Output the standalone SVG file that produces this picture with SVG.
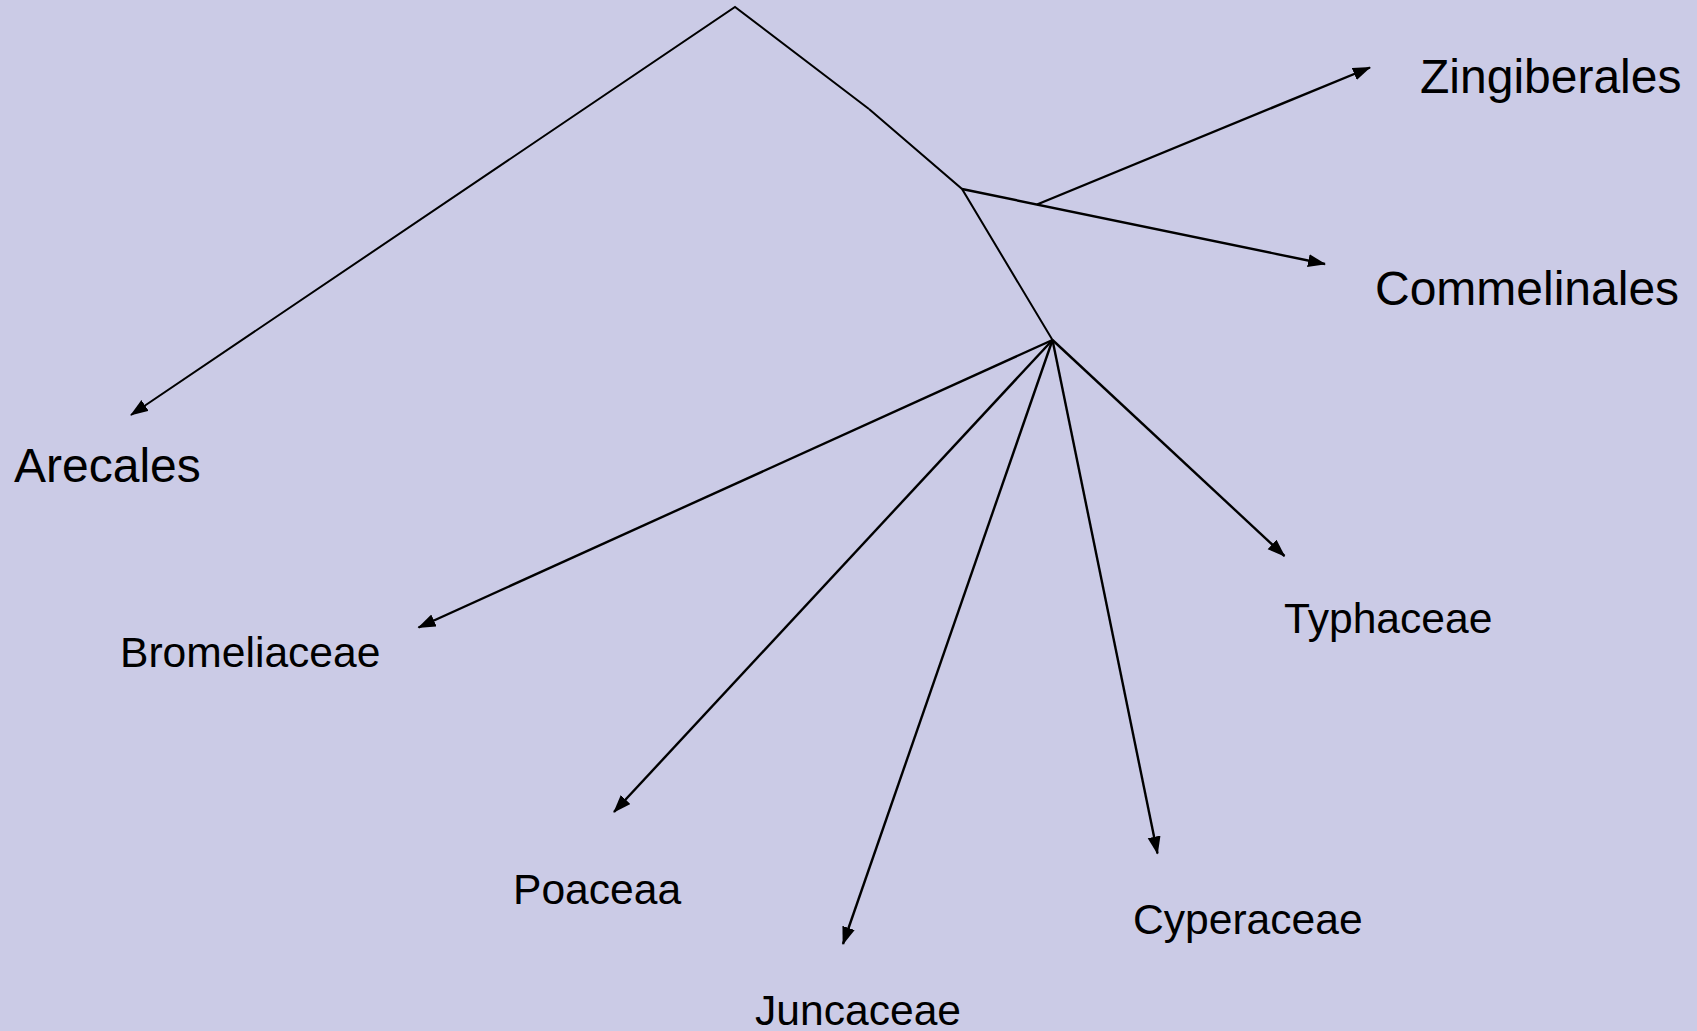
<svg xmlns="http://www.w3.org/2000/svg" width="1697" height="1031" viewBox="0 0 1697 1031">
<defs>
<marker id="arrow" markerUnits="userSpaceOnUse" markerWidth="18" markerHeight="14" refX="17" refY="6.5" orient="auto">
<path d="M0,0 L18,6.5 L0,13 z" fill="#000"/>
</marker>
<style>
.tree{fill:none;stroke:#000;stroke-width:2;stroke-linejoin:miter}
.arr{fill:none;stroke:#000;stroke-width:2.4;marker-end:url(#arrow)}
.big{font-family:"Liberation Sans",Arial,sans-serif;font-size:48px;fill:#000}
.small{font-family:"Liberation Sans",Arial,sans-serif;font-size:42.6px;fill:#000}
</style>
</defs>
<rect x="0" y="0" width="1697" height="1031" fill="#CBCBE6"/>
<g id="connectors">
<polyline class="tree" points="869,109 735,7 131,415" marker-end="url(#arrow)"/>
<polyline class="tree" points="869,109 962,189 1052.5,340"/>
<line class="arr" x1="962" y1="189" x2="1325" y2="264"/>
<line class="arr" x1="1037" y1="204.5" x2="1370" y2="67.5"/>
<line class="arr" x1="1052.5" y1="340" x2="418.5" y2="627.5"/>
<line class="arr" x1="1052.5" y1="340" x2="614" y2="812"/>
<line class="arr" x1="1052.5" y1="340" x2="843" y2="944"/>
<line class="arr" x1="1052.5" y1="340" x2="1157.5" y2="853.5"/>
<line class="arr" x1="1052.5" y1="340" x2="1284.5" y2="556"/>
</g>
<g id="node-zingiberales"><text class="big" x="1420" y="93">Zingiberales</text></g>
<g id="node-commelinales"><text class="big" x="1375" y="305">Commelinales</text></g>
<g id="node-arecales"><text class="big" x="14" y="481.5">Arecales</text></g>
<g id="node-bromeliaceae"><text class="small" x="120" y="667">Bromeliaceae</text></g>
<g id="node-poaceaa"><text class="small" x="513" y="904">Poaceaa</text></g>
<g id="node-juncaceae"><text class="small" x="755" y="1025">Juncaceae</text></g>
<g id="node-cyperaceae"><text class="small" x="1133" y="934">Cyperaceae</text></g>
<g id="node-typhaceae"><text class="small" x="1284" y="633">Typhaceae</text></g>
</svg>
